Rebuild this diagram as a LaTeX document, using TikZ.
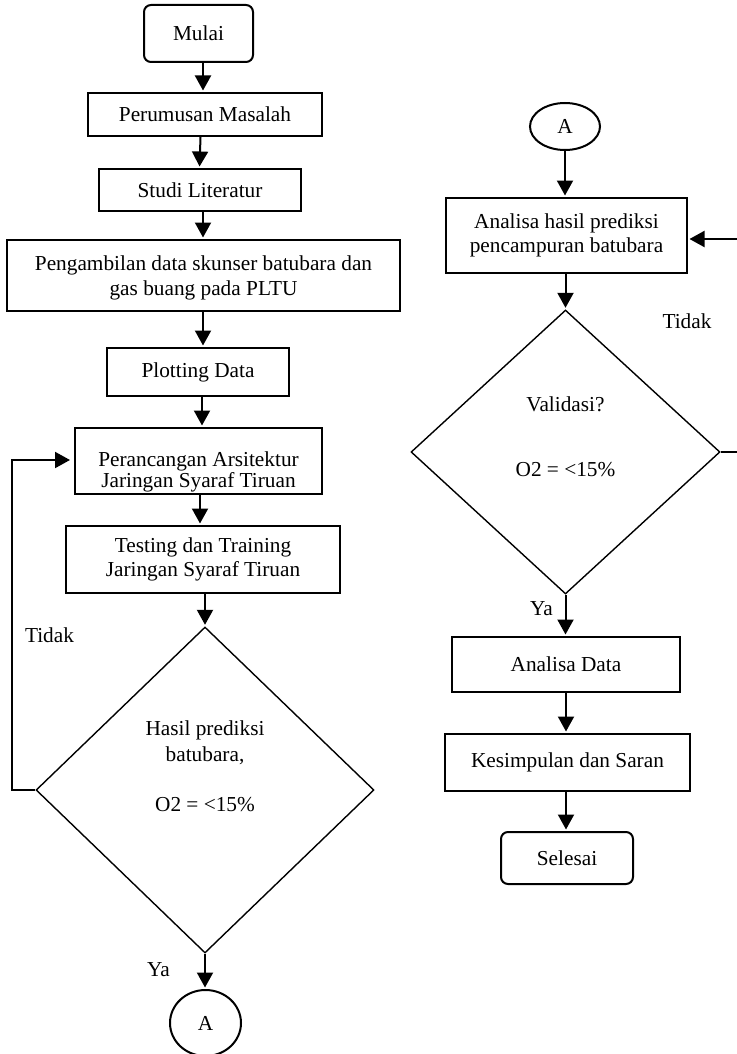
\documentclass[tikz,border=0pt]{standalone}
\usepackage{fontspec}
\setmainfont{Liberation Serif}
\usetikzlibrary{arrows.meta,shapes.geometric}

\tikzset{
  txt/.style={font=\fontsize{21.3}{24}\selectfont, align=center, inner sep=0pt},
  procbox/.style={draw, line width=2pt, txt},
  termbox/.style={procbox, rounded corners=7pt},
  decision/.style={draw, diamond, line width=1.4pt, inner sep=0pt},
  connector/.style={draw, ellipse, line width=2pt, txt},
  arr/.style={-{Triangle[length=15pt,width=16pt]}, line width=2pt, shorten >=1.5pt},
  flowlabel/.style={txt, anchor=base},
}

\begin{document}
\begin{tikzpicture}[x=1pt,y=-1pt]
\useasboundingbox (0,0) rectangle (736,1054);

% arrow columns
\coordinate (colL) at (203,0);
\coordinate (colR) at (566,0);

% ---------------- left column ----------------
\node[termbox, minimum width=109pt, minimum height=57pt] (mulai) at (198.5,33.5) {Mulai};
\node[procbox, minimum width=234pt, minimum height=43pt] (rumus) at (205,114.5) {Perumusan Masalah};
\node[procbox, minimum width=202pt, minimum height=42pt] (studi) at (200,190) {Studi Literatur};
\node[draw, line width=2pt, minimum width=393pt, minimum height=71pt] (ambil) at (203.5,275.5) {};
\node[txt, font=\fontsize{21.3}{25.5}\selectfont, anchor=base] (ambiltxt) at (203.5,295.7)
  {Pengambilan data skunser batubara dan\\gas buang pada PLTU};
\node[procbox, minimum width=182pt, minimum height=48pt] (plot) at (198,372) {Plotting Data};

% design box: its second line runs into the bottom edge
\node[draw, line width=2pt, minimum width=247pt, minimum height=66pt] (rancang) at (198.5,461) {};
\begin{scope}
  \clip (rancang.north west) rectangle ([yshift=-3.5pt]rancang.south east);
  \node[txt, font=\fontsize{21.3}{21}\selectfont, anchor=base] (rancangtxt) at (198.5,487)
    {Perancangan Arsitektur\\Jaringan Syaraf Tiruan};
\end{scope}

\node[procbox, minimum width=274pt, minimum height=67pt] (uji) at (203,559.5)
  {Testing dan Training\\Jaringan Syaraf Tiruan};

\node[decision, minimum width=338pt, minimum height=326pt] (cek1) at (205,790) {};
\node[txt, font=\fontsize{21.3}{26}\selectfont] (cek1txt) at (205,766)
  {Hasil prediksi\\batubara,\\[24pt]O2 = <15\%};

\node[connector, minimum width=71pt, minimum height=66pt] (aL) at (205.5,1023) {A};

% ---------------- right column ----------------
\node[connector, minimum width=70pt, minimum height=47pt] (aR) at (565,126.5) {A};
\node[procbox, minimum width=241pt, minimum height=75pt] (analisa) at (566.5,235.5)
  {Analisa hasil prediksi\\pencampuran batubara};
\node[decision, minimum width=309pt, minimum height=284pt] (cek2) at (565.5,452) {};
\node[txt] (cek2a) at (565.5,404) {Validasi?};
\node[txt] (cek2b) at (565.5,470) {O2 = <15\%};
\node[procbox, minimum width=228pt, minimum height=55pt] (data) at (566,664.5) {Analisa Data};
\node[procbox, minimum width=245pt, minimum height=57pt] (simpul) at (567.5,762.5) {Kesimpulan dan Saran};
\node[termbox, minimum width=132pt, minimum height=52pt] (selesai) at (567,858) {Selesai};

% ---------------- connectors ----------------
\draw[arr] (mulai.south -| colL) -- (rumus.north -| colL);
\draw[arr] ([xshift=0.5pt]rumus.south -| 200,0) -- ([xshift=-0.5pt]studi.north -| 200,0);
\draw[arr] (studi.south -| colL) -- (ambil.north -| colL);
\draw[arr] (ambil.south -| colL) -- (plot.north -| colL);
\draw[arr] (plot.south -| 202,0) -- (rancang.north -| 202,0);
\draw[arr] (rancang.south -| 200,0) -- (uji.north -| 200,0);
\draw[arr] (uji.south -| cek1.north) -- (cek1.north);
\draw[arr] (cek1.south) -- (aL.north -| cek1.south);

% "Tidak" loop back to the design step
\coordinate (loopL) at (12,460);
\draw[arr, line join=miter, shorten >=4pt] (cek1.west) -| (loopL) -- (loopL -| rancang.west);

\draw[arr] (aR.south -| aR.south) -- (analisa.north -| aR.south);
\draw[arr] (analisa.south -| cek2.north) -- (cek2.north);
\draw[arr] (cek2.south) -- (data.north -| cek2.south);
\draw[arr] (data.south -| colR) -- (simpul.north -| colR);
\draw[arr] (simpul.south -| colR) -- (selesai.north -| colR);

% "Tidak" loop back to the analysis step (its riser lies past the right edge)
\coordinate (loopR) at (745,239);
\draw[arr, line join=miter] (cek2.east) -| (loopR) -- (loopR -| analisa.east);

% ---------------- branch labels ----------------
\node[flowlabel] (tidakL) at (49.5,642.7) {Tidak};
\node[flowlabel] (yaL) at (158.5,976.7) {Ya};
\node[flowlabel] (tidakR) at (687,328.3) {Tidak};
\node[flowlabel] (yaR) at (541.5,615) {Ya};
\end{tikzpicture}
\end{document}
